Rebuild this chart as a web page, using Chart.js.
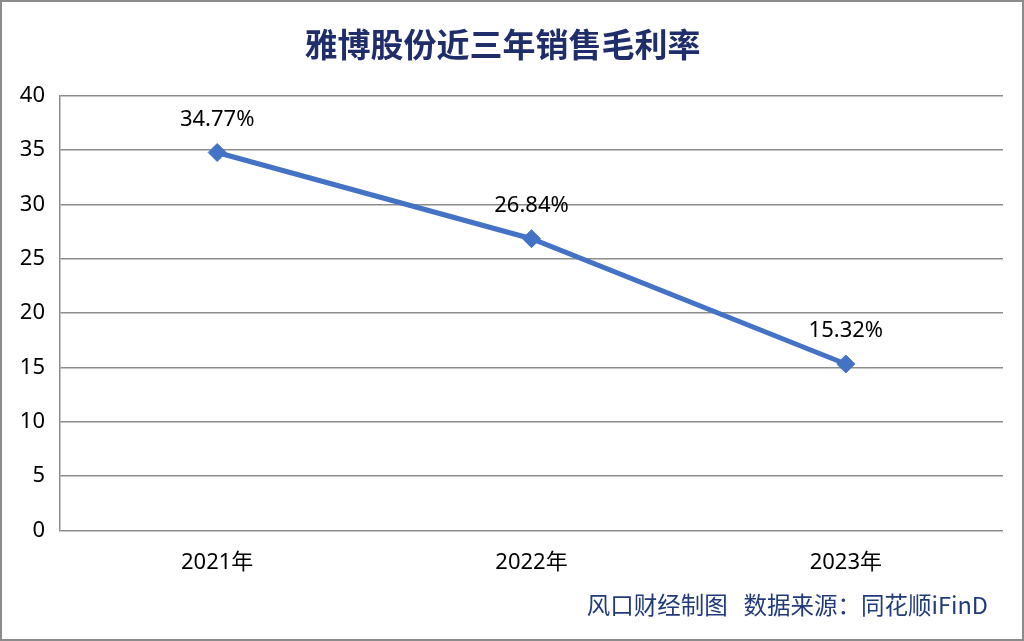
<!DOCTYPE html>
<html>
<head>
<meta charset="utf-8">
<script src="https://cdn.jsdelivr.net/npm/chart.js@4"></script>
<style>
  body { margin: 0; background: #fff; }
  #wrap { width: 1024px; height: 641px; box-sizing: border-box; border: 2px solid #8c8c8c; background: #fff; }
</style>
</head>
<body>
<div id="wrap"><canvas id="myChart" width="1020" height="637"></canvas></div>
<script>
const years = ['2021年', '2022年', '2023年'];
const grossMargin = [34.77, 26.84, 15.32];
const yTicks = [0, 5, 10, 15, 20, 25, 30, 35, 40];
const footerText = '风口财经制图   数据来源：同花顺iFinD';

const baseFont = '"Noto Sans", "Noto Sans CJK SC", sans-serif';

// value labels above each point + source footer
const extraText = {
    id: 'extraText',
    afterDatasetsDraw(chart)
    {
        const ctx = chart.ctx;
        const meta = chart.getDatasetMeta(0);
        ctx.save();
        ctx.font = '22px ' + baseFont;
        ctx.fillStyle = '#000';
        ctx.textAlign = 'center';
        ctx.textBaseline = 'middle';
        meta.data.forEach((pt, i) =>
        {
            ctx.fillText(grossMargin[i].toFixed(2) + '%', pt.x, pt.y - 33);
        });

        ctx.font = '23.5px "Noto Sans CJK SC", sans-serif';
        ctx.fillStyle = '#203A7A';
        ctx.textAlign = 'right';
        ctx.fillText(footerText, 986, 603);
        ctx.restore();
    }
};

new Chart(document.getElementById('myChart').getContext('2d'), {
    type: 'line',
    data: {
        labels: years,
        datasets: [
            {
                data: grossMargin,
                borderColor: '#4472C4',
                backgroundColor: '#4472C4',
                borderWidth: 5,
                pointStyle: 'rectRot',
                pointRadius: 9,
                pointBorderWidth: 1,
                tension: 0,
            },
        ]
    },
    options: {
        responsive: false,
        animation: false,
        layout: {
            padding: { top: 0, bottom: 44, left: 0, right: 19 },
        },
        plugins: {
            legend: { display: false },
            tooltip: { enabled: false },
            title: {
                display: true,
                text: '雅博股份近三年销售毛利率',
                color: '#1F2D6B',
                font: { size: 33, weight: 'bold', family: '"Noto Sans CJK SC", sans-serif' },
                padding: { top: 23, bottom: 31 },
            },
        },
        scales: {
            x: {
                type: 'category',
                offset: true,
                grid: { display: false, drawTicks: false },
                border: { display: false },
                ticks: {
                    color: '#000',
                    font: { size: 22, family: baseFont },
                    padding: 19,
                },
            },
            y: {
                type: 'linear',
                min: 0,
                max: 40,
                afterFit(scale) { scale.width = 58; },
                afterBuildTicks(scale) { scale.ticks = yTicks.map(v => ({ value: v })); },
                grid: { color: '#8c8c8c', lineWidth: 1.5, drawTicks: false },
                border: { display: true, color: '#8c8c8c', width: 1.5 },
                ticks: {
                    color: '#000',
                    font: { size: 22, family: baseFont },
                    padding: 15,
                },
            }
        }
    },
    plugins: [extraText]
});
</script>
</body>
</html>
